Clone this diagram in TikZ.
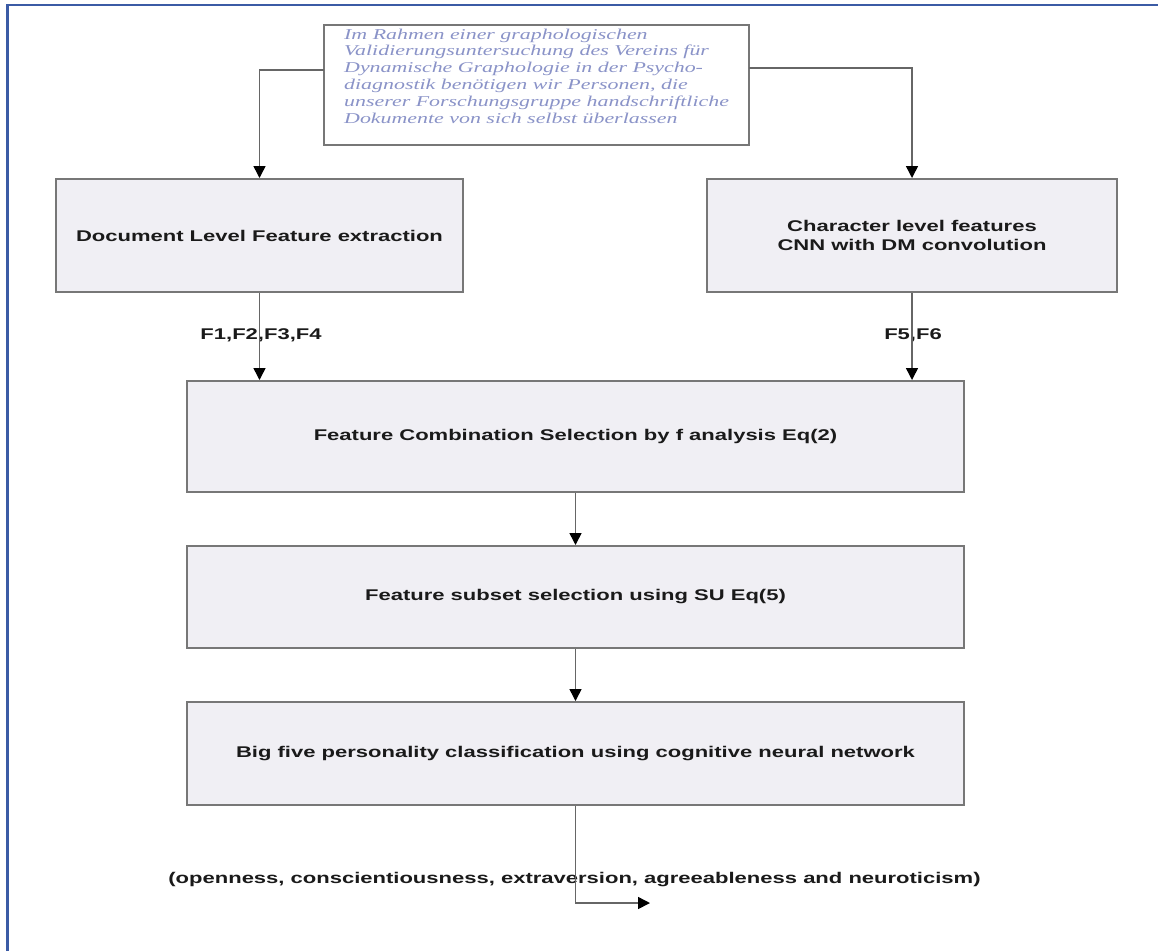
\documentclass[tikz,border=0pt]{standalone}
\usepackage{fontspec}
\setmainfont{Liberation Sans}
\newfontfamily\diafont{Liberation Sans}[FakeStretch=1.42]
\newfontfamily\handfont{Liberation Serif}[FakeStretch=1.46]
\usetikzlibrary{arrows.meta}
\definecolor{framebl}{HTML}{3B5BA5}
\definecolor{boxfill}{HTML}{F0EFF4}
\definecolor{boxline}{HTML}{777777}
\definecolor{connline}{HTML}{666666}
\definecolor{handblue}{HTML}{8A93C8}
\definecolor{txt}{HTML}{1A1A1A}
\tikzset{
  procbox/.style={draw=boxline, line width=2pt, fill=boxfill, rectangle, inner sep=0pt,
    text=txt, align=center, font=\diafont\bfseries\fontsize{15.5}{18.5}\selectfont},
  handbox/.style={draw=boxline, line width=2pt, fill=white, rectangle, inner sep=0pt},
  handtext/.style={text=handblue, align=left, inner sep=0pt, anchor=west,
    font=\handfont\itshape\fontsize{15}{16.8}\selectfont},
  flabel/.style={text=txt, inner sep=0pt, font=\diafont\bfseries\fontsize{15.5}{18.5}\selectfont},
  conn/.style={draw=connline, line width=1.5pt, -{Triangle[length=12pt,width=12pt,color=black]}}
}
\begin{document}
\begin{tikzpicture}[x=1pt,y=-1pt]
\useasboundingbox (0,0) rectangle (1158,951);
\fill[white] (0,0) rectangle (1158,951);
\draw[framebl, line width=2.5pt] (7.5,951) -- (7.5,5) -- (1158,5);

% handwritten sample
\node[handbox, minimum width=425pt, minimum height=120pt] (hw) at (536.5,85) {};
\node[handtext] (hwt) at (344,76) {Im Rahmen einer graphologischen\\
Validierungsuntersuchung des Vereins für\\
Dynamische Graphologie in der Psycho-\\
diagnostik benötigen wir Personen, die\\
unserer Forschungsgruppe handschriftliche\\
Dokumente von sich selbst überlassen};

% boxes
\node[procbox, minimum width=407pt, minimum height=113pt] (doc) at (259.5,235.5) {Document Level Feature extraction};
\node[procbox, minimum width=410pt, minimum height=113pt] (chr) at (912,235.5) {Character level features\\CNN with DM convolution};
\node[procbox, minimum width=777pt, minimum height=111pt] (comb) at (575.5,436.5) {Feature Combination Selection by f analysis Eq(2)};
\node[procbox, minimum width=777pt, minimum height=102pt] (sub) at (575.5,597) {Feature subset selection using SU Eq(5)};
\node[procbox, minimum width=777pt, minimum height=103pt] (big) at (575.5,753.5) {Big five personality classification using cognitive neural network};

% labels
\node[flabel] (f14) at (261,335) {F1,F2,F3,F4};
\node[flabel] (f56) at (913,335) {F5,F6};
\node[flabel] (out) at (574.5,880) {(openness, conscientiousness, extraversion, agreeableness and neuroticism)};

% connector coordinates
\coordinate (hwL) at (324,70);
\coordinate (hwR) at (749,68);
\coordinate (outEnd) at (650,903);

% connectors
\draw[conn] (hwL) -| (doc.north);
\draw[conn] (hwR) -| (chr.north);
\draw[conn] (doc.south) -- (doc.south |- comb.north);
\draw[conn] (chr.south) -- (chr.south |- comb.north);
\draw[conn] (comb.south) -- (sub.north);
\draw[conn] (sub.south) -- (big.north);
\draw[conn] (big.south) |- (outEnd);
\end{tikzpicture}
\end{document}
